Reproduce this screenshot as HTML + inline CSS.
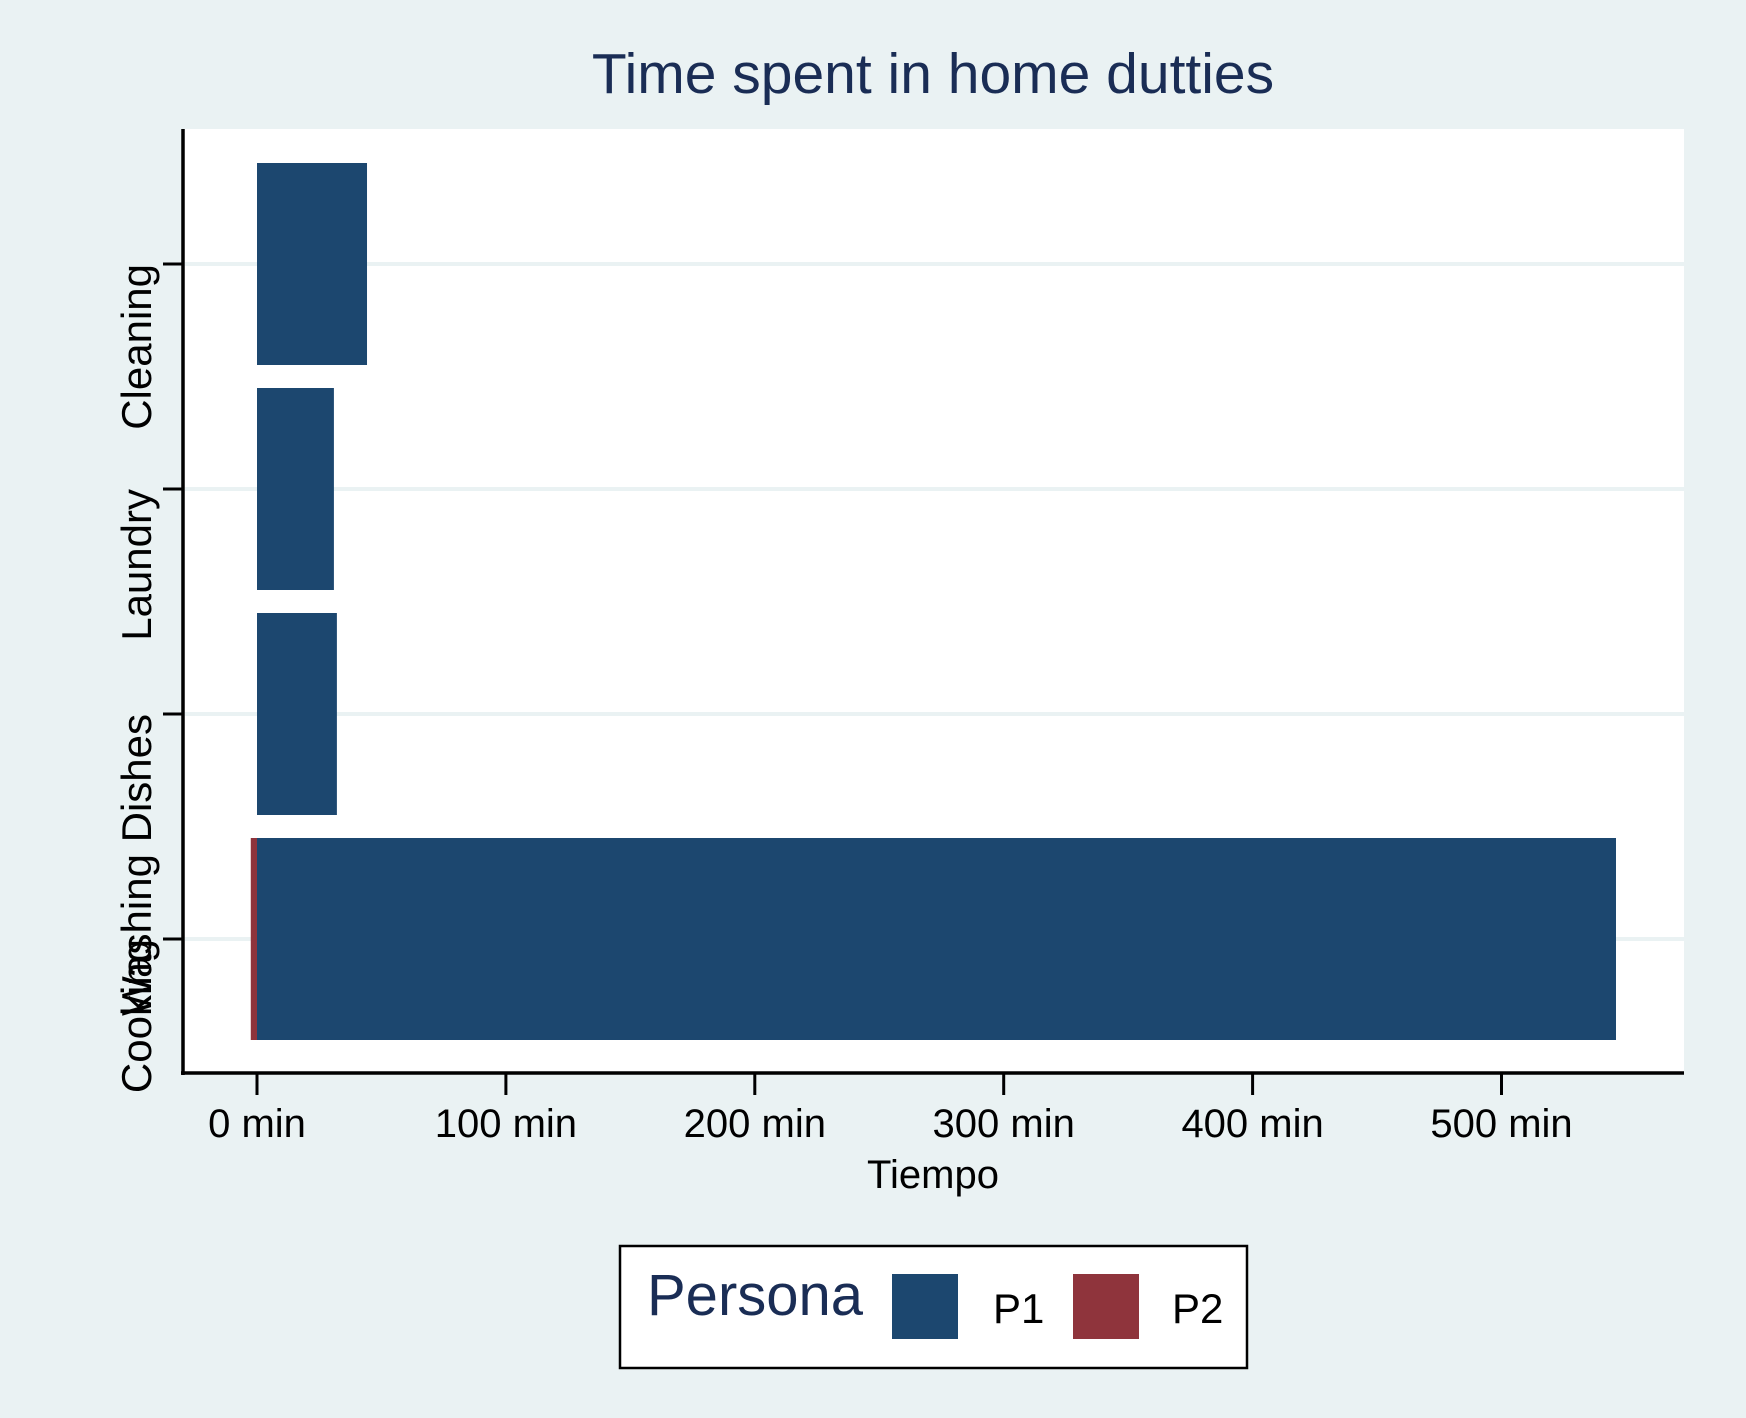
<!DOCTYPE html>
<html><head><meta charset="utf-8"><style>
html,body{margin:0;padding:0;background:#eaf2f3;}
svg{display:block;font-family:"Liberation Sans",Arial,sans-serif;}
</style></head><body>
<svg id="chart" width="1746" height="1418" viewBox="0 0 1746 1418">
<rect x="0" y="0" width="1746" height="1418" fill="#eaf2f3"/>
<text x="933" y="93" text-anchor="middle" font-size="57" fill="#1a2d55">Time spent in home dutties</text>
<rect x="183" y="129" width="1501" height="944" fill="#ffffff"/>
<g id="grid"></g>
<g id="bars"></g>
<g id="axes"></g>
<text x="933" y="1188" text-anchor="middle" font-size="40" fill="#000">Tiempo</text>
<g>
<rect x="620" y="1246" width="627" height="122" fill="#fff" stroke="#000" stroke-width="2.5"/>
<text x="647" y="1315" font-size="58" fill="#1a2d55">Persona</text>
<rect x="892" y="1274" width="66" height="65" fill="#1c476f"/>
<text x="993" y="1323" font-size="42" fill="#000">P1</text>
<rect x="1073" y="1274" width="66" height="65" fill="#8f343c"/>
<text x="1172" y="1323" font-size="42" fill="#000">P2</text>
</g>
</svg>
<script>
const categories = ["Cleaning", "Laundry", "Washing Dishes", "Cooking"];
const p1Values = [44.2, 30.9, 32.1, 546];
const p2Values = [0, 0, 0, -2.5];
const xTicks = [0, 100, 200, 300, 400, 500];
const xTickLabels = ["0 min", "100 min", "200 min", "300 min", "400 min", "500 min"];

const NS = "http://www.w3.org/2000/svg";
const x0 = 257, pxPerUnit = 2.489;
function xScale(v){ return x0 + v * pxPerUnit; }
function yScale(i){ return 264 + i * 225; }
const barH = 202;
function mk(tag, attrs, parent){
  const e = document.createElementNS(NS, tag);
  for (const k in attrs) e.setAttribute(k, attrs[k]);
  parent.appendChild(e);
  return e;
}
const grid = document.getElementById("grid");
const bars = document.getElementById("bars");
const axes = document.getElementById("axes");

categories.forEach((c, i) => {
  const y = yScale(i);
  const g = mk("line", {x1:185, x2:1684, y1:y, y2:y, stroke:"#eaf2f3", "stroke-width":4}, grid);
  
  
  const a = xScale(0), b = xScale(p1Values[i]);
  const r = mk("rect", {x:Math.min(a,b), y:y - barH/2, width:Math.abs(b-a), height:barH, fill:"#1c476f"}, bars);
  
  
  if (p2Values[i] !== 0) {
    const a2 = xScale(0), b2 = xScale(p2Values[i]);
    const r2 = mk("rect", {x:Math.min(a2,b2), y:y - barH/2, width:Math.abs(b2-a2), height:barH, fill:"#8f343c"}, bars);
    
    
  }
  const t = mk("line", {x1:163, x2:183, y1:y, y2:y, stroke:"#000", "stroke-width":3}, axes);
  
  
  const lb = mk("text", {x:0, y:0, "text-anchor":"end", "font-size":42, fill:"#000", transform:"translate(151," + y + ") rotate(-90)"}, axes);
  lb.textContent = c;
  
  
});

const yAxis = mk("line", {x1:183, x2:183, y1:129, y2:1075, stroke:"#000", "stroke-width":3.5}, axes);


const xAxis = mk("line", {x1:181, x2:1684, y1:1073, y2:1073, stroke:"#000", "stroke-width":3.5}, axes);



xTicks.forEach((v, i) => {
  const x = xScale(v);
  const t = mk("line", {x1:x, x2:x, y1:1073, y2:1095, stroke:"#000", "stroke-width":3}, axes);
  
  
  const lb = mk("text", {x:x, y:1137, "text-anchor":"middle", "font-size":40, fill:"#000"}, axes);
  lb.textContent = xTickLabels[i];
  
  
});
</script>
</body></html>
